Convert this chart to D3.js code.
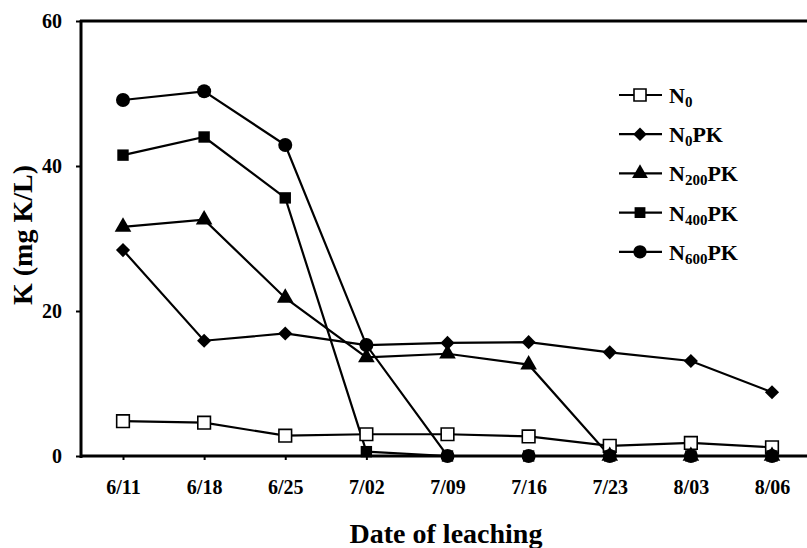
<!DOCTYPE html>
<html><head><meta charset="utf-8">
<script src="https://cdn.jsdelivr.net/npm/d3@7"></script>
<style>body{margin:0;background:#fff}svg{display:block}text{font-family:"Liberation Serif","Times New Roman",serif;font-weight:bold;fill:#000}</style>
</head><body>
<svg id="c" width="807" height="548"></svg>
<script>
const dates = ["6/11","6/18","6/25","7/02","7/09","7/16","7/23","8/03","8/06"];
const yTicks = [0,20,40,60];
const N0      = [4.8, 4.6, 2.8, 3.0, 3.0, 2.7, 1.4, 1.8, 1.2];
const N0PK    = [28.4, 15.9, 16.9, 15.3, 15.6, 15.7, 14.3, 13.1, 8.8];
const N200PK  = [31.6, 32.6, 21.8, 13.6, 14.1, 12.6, 0, 0, 0];
const N400PK  = [41.5, 44.0, 35.6, 0.6, 0, 0, 0, 0, 0];
const N600PK  = [49.1, 50.3, 42.9, 15.3, 0, 0, 0, 0, 0];
const seriesNames = [["N","0",""],["N","0","PK"],["N","200","PK"],["N","400","PK"],["N","600","PK"]];
const seriesData = [N0, N0PK, N200PK, N400PK, N600PK];
const seriesMarkers = ["openSquare","diamond","triangle","square","circle"];

const svg = d3.select("#c");
const x = d3.scalePoint().domain(dates).range([123, 772]);
const y = d3.scaleLinear().domain([0,60]).range([456, 21]);
const xLeft = 81, xRight = 807;

function marker(sel, type, scale) {
  scale = scale || 1;
  if (type === "openSquare") {
    sel.append("path").attr("d", d3.symbol(d3.symbolSquare, 160*scale*scale)())
      .attr("fill","#fff").attr("stroke","#000").attr("stroke-width",1.6);
  } else if (type === "diamond") {
    sel.append("path").attr("d", d3.symbol(d3.symbolSquare, 100*scale*scale)())
      .attr("transform","rotate(45)").attr("fill","#000");
  } else if (type === "triangle") {
    sel.append("path").attr("d", d3.symbol(d3.symbolTriangle, 120*scale*scale)())
      .attr("fill","#000");
  } else if (type === "square") {
    sel.append("path").attr("d", d3.symbol(d3.symbolSquare, 130*scale*scale)())
      .attr("fill","#000");
  } else if (type === "circle") {
    sel.append("path").attr("d", d3.symbol(d3.symbolCircle, 155*scale*scale)())
      .attr("fill","#000");
  }
}

// axes
const yAxis = d3.axisLeft(y).tickValues(yTicks).tickSize(5).tickPadding(14).tickFormat(d3.format("d"));
const gy = svg.append("g").attr("transform",`translate(${xLeft},0)`).call(yAxis);
gy.select(".domain").remove();
gy.selectAll(".tick line").attr("stroke","#000").attr("stroke-width",2);
gy.selectAll(".tick text").attr("font-size",20).attr("fill","#000");

const xAxis = d3.axisBottom(x).tickSize(4).tickPadding(20);
const gx = svg.append("g").attr("transform",`translate(0,${y(0)})`).call(xAxis);
gx.select(".domain").remove();
gx.selectAll(".tick line").attr("stroke","#000").attr("stroke-width",2);
gx.selectAll(".tick text").attr("font-size",20).attr("fill","#000");

// frame lines
svg.append("line").attr("x1",xLeft).attr("x2",xLeft).attr("y1",y(60)-1).attr("y2",y(0)+2).attr("stroke","#000").attr("stroke-width",3);
svg.append("line").attr("x1",xLeft-1).attr("x2",xRight).attr("y1",y(0)).attr("y2",y(0)).attr("stroke","#000").attr("stroke-width",3);
svg.append("line").attr("x1",xLeft-1).attr("x2",xRight).attr("y1",y(60)).attr("y2",y(60)).attr("stroke","#000").attr("stroke-width",3);

// series
const line = d3.line().x((d,i)=>x(dates[i])).y(d=>y(d));
seriesData.forEach((s, k) => {
  svg.append("path").datum(s).attr("d", line).attr("fill","none").attr("stroke","#000").attr("stroke-width",2.2);
});
seriesData.forEach((s, k) => {
  s.forEach((v, i) => {
    const g = svg.append("g").attr("transform",`translate(${x(dates[i])},${y(v)})`);
    marker(g, seriesMarkers[k]);
  });
});

// legend
const legY0 = 95, legStep = 39.2;
seriesNames.forEach((nm, k) => {
  const gy0 = legY0 + k*legStep;
  svg.append("line").attr("x1",619).attr("x2",662).attr("y1",gy0).attr("y2",gy0).attr("stroke","#000").attr("stroke-width",2.2);
  const g = svg.append("g").attr("transform",`translate(640,${gy0})`);
  marker(g, seriesMarkers[k], 0.95);
  const t = svg.append("text").attr("x",669).attr("y",gy0+8).attr("font-size",22);
  t.append("tspan").text(nm[0]);
  t.append("tspan").attr("font-size",15).attr("dy",4).text(nm[1]);
  if (nm[2]) t.append("tspan").attr("dy",-4).text(nm[2]);
});

// axis titles
svg.append("text").attr("x",446).attr("y",543).attr("text-anchor","middle").attr("font-size",28).text("Date of leaching");
svg.append("text").attr("transform","translate(32,235) rotate(-90)").attr("text-anchor","middle").attr("font-size",28).text("K (mg K/L)");
</script>
</body></html>
